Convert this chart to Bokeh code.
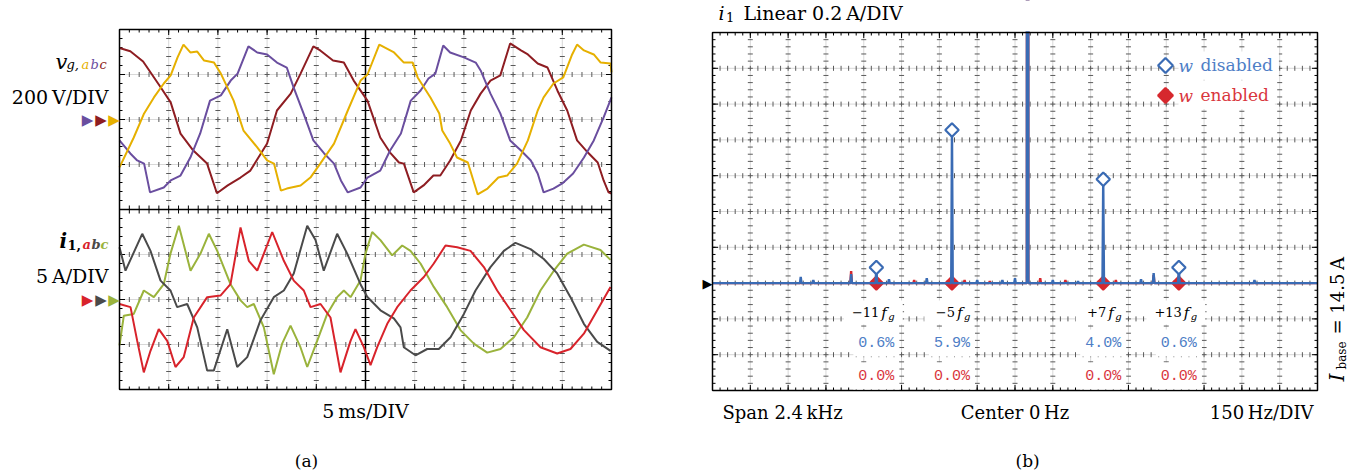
import numpy as np
from bokeh.plotting import figure
from bokeh.models import Range1d, Label, BoxAnnotation
from bokeh.layouts import row
from bokeh.embed import file_html
from bokeh.resources import INLINE

# ---------------- (a) grid voltages [V] vs time [ms] ----------------
va_t = [0, 1.45, 2.5, 3.5, 4.5, 5.2, 5.9, 6.5, 7.2, 7.9, 8.6, 9.6, 10.3, 11.6, 12.6, 14.0, 15.0, 15.7,
        16.4, 17.0, 18.4, 19.4, 20.4, 21.8, 23.2, 24.5, 25.2, 26.4, 27.9, 28.9, 29.8, 30.3, 31.6, 32.5,
        32.8, 33.6, 34.3, 35.4, 36.4, 37.4, 38.5, 39.4, 40.4, 41.5, 42.5, 43.1, 44.1, 45.1, 46.0, 46.5,
        47.2, 48.2, 48.9, 49.9, 50.0]
va_v = [-213, -80, 27, 98, 160, 196, 276, 333, 298, 302, 262, 253, 204, 84, -49, -124, -182, -196,
        -316, -307, -293, -258, -196, -107, 40, 173, 200, 333, 298, 253, 253, 187, 98, 27,
        -49, -107, -169, -191, -333, -307, -258, -249, -196, -93, 40, 98, 160, 187, 289, 333,
        307, 289, 253, 249, 209]
vb_t = [0, 1.1, 1.8, 2.5, 3.1, 4.5, 5.2, 6.2, 7.2, 8.2, 9.2, 10.3, 11.3, 12.0, 13.1, 14.0, 15.0, 16.0,
        17.0, 17.7, 18.7, 19.7, 20.8, 21.8, 22.5, 23.2, 24.5, 25.2, 26.5, 27.5, 28.6, 29.6, 30.6, 31.4,
        32.1, 32.9, 33.6, 35.0, 36.2, 36.7, 37.7, 38.7, 39.7, 40.8, 41.8, 42.5, 43.1, 44.1, 45.0, 46.1,
        47.2, 48.2, 49.2, 50.0]
vb_v = [-93, -151, -182, -196, -324, -302, -271, -249, -169, -62, 84, 107, 173, 204, 325, 298, 289, 253,
        231, 142, 27, -93, -151, -196, -271, -324, -302, -258, -227, -138, -62, 84, 129, 182,
        204, 329, 298, 276, 253, 218, 115, 27, -93, -138, -182, -240, -324, -307, -284, -240,
        -169, -93, 9, 98]
vc_t = [0, 1.1, 2.4, 4.2, 5.2, 6.2, 7.5, 8.9, 9.9, 11.0, 12.3, 13.3, 15.0, 16.0, 17.4, 18.4, 19.7, 20.4,
        21.7, 22.8, 23.8, 25.2, 26.5, 27.5, 28.4, 28.9, 29.9, 30.9, 31.9, 32.6, 33.6, 34.7, 35.7, 36.7,
        37.7, 38.7, 39.7, 40.8, 41.5, 42.5, 43.5, 44.5, 45.5, 46.5, 47.6, 48.6, 49.2, 49.7, 50.0]
vc_v = [318, 303, 258, 142, 76, -63, -138, -196, -328, -293, -258, -227, -107, 40, 115, 204, 325, 307,
        262, 253, 173, 84, -80, -147, -191, -196, -324, -293, -249, -249, -182, -93, 40, 115,
        173, 196, 338, 307, 289, 249, 231, 129, 40, -93, -147, -191, -271, -324, -329]

# ---------------- (a) converter currents [A] vs time [ms] ----------------
ia_t = [0, 1.12, 1.80, 2.47, 3.15, 3.99, 4.85, 5.69, 6.53, 7.55, 8.91, 10.26, 11.28, 12.30, 13.14, 14.0,
        15.52, 16.70, 17.71, 18.73, 19.41, 20.43, 21.44, 22.46, 23.48, 23.98, 24.83, 25.51, 26.19, 27.21,
        28.22, 29.57, 30.93, 31.94, 33.13, 34.32, 35.67, 37.03, 38.38, 39.74, 41.10, 42.78, 44.48, 45.83,
        47.19, 48.55, 49.9]
ia_i = [-0.5, -0.85, -4.6, -8.1, -5.7, -3.3, -4.6, -7.5, -6.4, -2.0, 0.26, 0.44, 1.7, 8.0, 4.3, 3.2,
        7.5, 4.3, 2.1, 1.0, -0.85, -0.5, -2.0, -8.1, -4.6, -3.3, -5.3, -7.3, -5.3, -2.7,
        -0.85, 1.0, 2.5, 4.0, 6.0, 5.8, 5.4, 3.6, 1.0, -1.2, -3.4, -5.3, -6.0, -5.5,
        -3.8, -1.2, 1.4]
ib_t = [0, 0.61, 2.31, 3.15, 4.17, 5.18, 5.86, 6.88, 7.90, 8.91, 9.58, 10.95, 11.96, 12.98, 14.33, 15.68,
        16.70, 17.71, 19.08, 19.92, 20.76, 22.12, 23.14, 24.49, 25.17, 26.52, 27.88, 28.56, 28.89, 30.08,
        31.27, 32.45, 33.64, 35.0, 36.18, 37.70, 39.06, 40.24, 41.77, 43.12, 44.48, 45.83, 47.19, 48.55,
        49.9]
ib_i = [5.8, 3.2, 7.3, 5.4, 2.1, 1.0, -0.85, -0.5, -3.1, -7.9, -7.9, -3.3, -7.5, -6.4, -2.3, 0.26,
        1.0, 2.9, 8.2, 6.6, 3.2, 7.3, 5.1, 1.7, 0.3, -1.2, -2.1, -3.1, -5.3, -6.2,
        -5.5, -5.5, -4.2, -1.6, 1.0, 3.6, 5.4, 6.3, 5.6, 4.5, 2.9, 0.26, -2.7, -4.7,
        -5.7]
ic_t = [0, 0.44, 1.45, 2.47, 3.49, 4.5, 5.18, 6.03, 7.22, 8.23, 9.08, 9.93, 11.28, 12.30, 12.98, 13.65,
        14.67, 15.68, 16.53, 17.38, 18.39, 19.08, 20.09, 21.11, 22.12, 22.80, 23.48, 24.49, 25.0, 25.68,
        26.52, 27.71, 28.73, 29.57, 30.59, 31.94, 33.30, 34.65, 36.01, 37.37, 38.72, 40.08, 41.43, 42.78,
        44.14, 45.50, 47.19, 48.88, 49.9]
ic_i = [-5.1, -1.8, -1.6, 1.0, 0.26, 1.7, 5.1, 8.2, 3.2, 5.1, 7.3, 5.4, 1.7, -0.1, -0.85, -0.5,
        -3.1, -8.3, -4.9, -2.9, -5.3, -7.5, -4.6, -1.6, 0.26, 1.0, 0.26, 2.1, 5.1, 7.5,
        6.6, 4.9, 6.0, 5.4, 4.0, 1.4, -0.85, -3.4, -4.9, -5.9, -5.5, -4.2, -2.0, 1.0,
        3.2, 5.1, 6.1, 5.5, 4.4]

# ---------------- (b) spectrum of i1 ----------------
I_BASE = 14.5            # A
F_G = 50                 # Hz
harm_order = [-11, -5, 7, 13]
harm_text = ["\u221211", "\u22125", "+7", "+13"]
pct_disabled = [0.6, 5.9, 4.0, 0.6]
pct_enabled = [0.0, 0.0, 0.0, 0.0]
spur_f_disabled = [-850, -800, -650, -500, -350, -150, -50, 0, 150, 250, 500, 550, 950]
spur_a_disabled = [0.034, 0.017, 0.050, 0.022, 0.028, 0.017, 0.017, 0.028, 0.017, 0.011, 0.022, 0.056, 0.017]
spur_f_enabled = [-650, -400, -200, -100, 100, 200, 400, 550]
spur_a_enabled = [0.067, 0.017, 0.017, 0.011, 0.028, 0.017, 0.017, 0.045]

# ---------------- styles ----------------
C_VA, C_VB, C_VC = "#E6B000", "#6A4E9F", "#8E1D22"
C_IA, C_IB, C_IC = "#D8232B", "#4A4A4A", "#9AB33C"
C_BLUE, C_RED = "#3A6BB4", "#D6282E"
C_BLUE_T, C_RED_T = "#4E7EC6", "#D9363D"
C_GRID, C_TICK = "#d8d8d8", "#5a5a5a"
SERIF, MONO, SYM = "DejaVu Serif", "Liberation Mono", "DejaVu Sans"


def scope_grid(p, xr, yr, sx, sy, xmaj, xmin, ymaj, ymin, xg, yg):
    """Oscilloscope graticule: light grid, cross ticks, inward border ticks."""
    x0, x1 = xr
    y0, y1 = yr
    xg, yg = np.asarray(xg, float), np.asarray(yg, float)
    p.segment(xg, np.full(len(xg), y0), xg, np.full(len(xg), y1), line_color=C_GRID, line_width=1)
    p.segment(np.full(len(yg), x0), yg, np.full(len(yg), x1), yg, line_color=C_GRID, line_width=1)
    hx, hy = np.meshgrid(np.asarray(xmin)[1:-1], yg)
    p.scatter(hx.ravel(), hy.ravel(), marker="dash", size=5, angle=np.pi / 2,
              line_color=C_TICK, line_width=1)
    vx, vy = np.meshgrid(xg, np.asarray(ymin)[1:-1])
    p.scatter(vx.ravel(), vy.ravel(), marker="dash", size=5, line_color=C_TICK, line_width=1)
    for pos, ln in [(np.asarray(xmin, float), 3.0), (np.asarray(xmaj, float), 5.5)]:
        n = len(pos)
        p.segment(pos, np.full(n, y0), pos, np.full(n, y0 + ln / sy), line_color="black", line_width=1)
        p.segment(pos, np.full(n, y1), pos, np.full(n, y1 - ln / sy), line_color="black", line_width=1)
    for pos, ln in [(np.asarray(ymin, float), 3.0), (np.asarray(ymaj, float), 5.5)]:
        n = len(pos)
        p.segment(np.full(n, x0), pos, np.full(n, x0 + ln / sx), pos, line_color="black", line_width=1)
        p.segment(np.full(n, x1), pos, np.full(n, x1 - ln / sx), pos, line_color="black", line_width=1)


def scope_border(p, xr, yr):
    x0, x1 = xr
    y0, y1 = yr
    p.line([x0, x1, x1, x0, x0], [y0, y0, y1, y1, y0], line_color="black", line_width=1.5)


def lab(p, x, y, text, size, color="black", font=SERIF, style="normal", align="left",
        baseline="middle", angle=0.0, yr="default", bg=None, pad=0, xoff=0):
    kw = dict(x=x, y=y, text=text, text_font=font, text_font_size=f"{size}px", text_color=color,
              text_font_style=style, text_align=align, text_baseline=baseline, angle=angle,
              y_range_name=yr, x_offset=xoff)
    if bg is not None:
        kw.update(background_fill_color=bg, background_fill_alpha=1.0)
        try:
            l = Label(padding=pad, **kw)
        except Exception:
            l = Label(**kw)
    else:
        l = Label(**kw)
    p.add_layout(l)
    return l


def blank(p, x, y, text, size, font=SERIF, align="left", pad=3, xoff=0):
    """white box (white text on white) that hides the graticule behind a text"""
    return lab(p, x, y, text, size, "white", font=font, align=align, bg="white", pad=pad, xoff=xoff)


# ======================= (a) time-domain panel =======================
# panel frame in the page: x 119..611 px (50 ms), y 29..389 px (8 divisions)
SX1, SY1 = 9.84, 45.0          # px per ms, px per division


def LX(px):
    return (px - 119) / SX1


def LY(py):
    return (209 - py) / SY1


W1, H = 640, 476
p1 = figure(width=W1, height=H, x_range=Range1d(LX(0), LX(W1)), y_range=Range1d(LY(H), LY(0)),
            output_backend="svg", toolbar_location=None, title=None,
            x_axis_location=None, y_axis_location=None, min_border=0)
p1.grid.visible = False
p1.outline_line_color = None
p1.extra_y_ranges = {"v": Range1d((LY(H) - 2) * 200, (LY(0) - 2) * 200),
                     "i": Range1d((LY(H) + 2) * 5, (LY(0) + 2) * 5)}

xmin1 = np.round(np.arange(0, 50.001, 1.0), 3)
ymin1 = np.round(np.arange(-4, 4.001, 0.2), 3)
scope_grid(p1, (0, 50), (-4, 4), SX1, SY1, np.arange(0, 50.1, 5), xmin1, np.arange(-4, 4.1, 1), ymin1,
           [5, 10, 15, 20, 30, 35, 40, 45], [-3, -2, -1, 1, 2, 3])
# solid centre lines with crossing ticks
p1.segment([25, 0], [-4, 0], [25, 50], [4, 0], line_color="black", line_width=1.5)
p1.scatter(np.full(len(ymin1) - 2, 25.0), ymin1[1:-1], marker="dash", size=8, line_color="black", line_width=1)
p1.scatter(xmin1[1:-1], np.zeros(len(xmin1) - 2), marker="dash", size=8, angle=np.pi / 2,
           line_color="black", line_width=1)

p1.line(vc_t, vc_v, y_range_name="v", line_color=C_VC, line_width=2)
p1.line(vb_t, vb_v, y_range_name="v", line_color=C_VB, line_width=2)
p1.line(va_t, va_v, y_range_name="v", line_color=C_VA, line_width=2)
p1.line(ic_t, ic_i, y_range_name="i", line_color=C_IC, line_width=2)
p1.line(ib_t, ib_i, y_range_name="i", line_color=C_IB, line_width=2)
p1.line(ia_t, ia_i, y_range_name="i", line_color=C_IA, line_width=2)
scope_border(p1, (0, 50), (-4, 4))

lab(p1, LX(55), LY(61), "v", 21, style="italic")
lab(p1, LX(66), LY(64), "g,", 13, style="italic")
lab(p1, LX(81), LY(64), "a", 13, C_VA, style="italic")
lab(p1, LX(90), LY(64), "b", 13, C_VB, style="italic")
lab(p1, LX(99), LY(64), "c", 13, C_VC, style="italic")
lab(p1, LX(108), LY(96.5), "200\u2009V/DIV", 19, align="right")
for px, col in [(87, C_VB), (100.5, C_VC), (113.5, C_VA)]:
    lab(p1, LX(px), 0, "\u25B6", 15, col, font=SYM, align="center", yr="v")

lab(p1, LX(59), LY(240), "i", 20, style="bold italic")
lab(p1, LX(67), LY(244), "1,", 13, style="bold")
lab(p1, LX(82), LY(244), "a", 13, C_IA, style="bold italic")
lab(p1, LX(91), LY(244), "b", 13, C_IB, style="bold italic")
lab(p1, LX(100), LY(244), "c", 13, C_IC, style="bold italic")
lab(p1, LX(108), LY(275.5), "5\u2009A/DIV", 19, align="right")
for px, col in [(87, C_IA), (100.5, C_IB), (113.5, C_IC)]:
    lab(p1, LX(px), 0, "\u25B6", 15, col, font=SYM, align="center", yr="i")

lab(p1, 25, LY(410), "5\u2009ms/DIV", 19, align="center")
lab(p1, LX(306), LY(460), "(a)", 17, align="center")

# ======================= (b) spectrum panel =======================
# panel frame in the page: x 712..1317 px (2400 Hz), y 32..390 px (2.0 A)
SX2, SY2 = 605 / 2400, 179.0   # px per Hz, px per A
X_OFF = 640                     # page x of this figure's left edge


def RX(px):
    return (px - 1014.5) / SX2


def RY(py):
    return (282.6 - py) / SY2


W2 = 727
p2 = figure(width=W2, height=H, x_range=Range1d(RX(X_OFF), RX(X_OFF + W2)), y_range=Range1d(RY(H), RY(0)),
            output_backend="svg", toolbar_location=None, title=None,
            x_axis_location=None, y_axis_location=None, min_border=0)
p2.grid.visible = False
p2.outline_line_color = None

xmin2 = np.arange(-1200, 1201, 30)
ymin2 = np.round(np.arange(-0.6, 1.4001, 0.04), 3)
scope_grid(p2, (-1200, 1200), (-0.6, 1.4), SX2, SY2, np.arange(-1200, 1201, 150), xmin2,
           np.round(np.arange(-0.6, 1.4001, 0.2), 3), ymin2,
           np.arange(-1050, 1051, 150), np.round(np.arange(-0.4, 1.2001, 0.2), 3))

harm_f = [o * F_G for o in harm_order]
amp_dis = [pc / 100 * I_BASE for pc in pct_disabled]
amp_en = [pc / 100 * I_BASE for pc in pct_enabled]

HW = 3.0  # half base width of one spectral line [Hz]


def trace(freqs, amps):
    xs, ys = [-1200.0], [0.0]
    for f, a in sorted(zip(freqs, amps)):
        xs += [f - HW, f, f + HW]
        ys += [0.0, a, 0.0]
    xs.append(1200.0)
    ys.append(0.0)
    return xs, ys


xd, yd = trace(harm_f + spur_f_disabled + [F_G], amp_dis + spur_a_disabled + [I_BASE])
xe, ye = trace(spur_f_enabled + [F_G], spur_a_enabled + [I_BASE])

p2.scatter(harm_f, amp_en, marker="square", angle=np.pi / 4, size=9.5,
           fill_color=C_RED, line_color=C_RED, line_width=2)
p2.line(xe, ye, line_color=C_RED, line_width=2.4)
p2.line(xd, yd, line_color=C_BLUE, line_width=2.4)
p2.scatter(harm_f, amp_dis, marker="square", angle=np.pi / 4, size=9.5,
           fill_color="white", line_color=C_BLUE, line_width=2.2)
scope_border(p2, (-1200, 1200), (-0.6, 1.4))
# page area above the graticule stays blank (the fundamental line is cut at the top edge)
p2.add_layout(BoxAnnotation(bottom=1.4 + 1.2 / SY2, fill_color="white", fill_alpha=1.0, line_color=None))

# key
blank(p2, RX(1178), RY(65), "w disabled", 17, pad=4)
blank(p2, RX(1178), RY(94.5), "w enabled", 17, pad=4)
p2.scatter([RX(1165)], [RY(65)], marker="square", angle=np.pi / 4, size=10.5,
           fill_color="white", line_color=C_BLUE, line_width=2.2)
p2.scatter([RX(1165)], [RY(95)], marker="square", angle=np.pi / 4, size=10.5,
           fill_color=C_RED, line_color=C_RED, line_width=2.2)
lab(p2, RX(1178), RY(65.5), "w", 17, C_BLUE_T, style="italic")
lab(p2, RX(1200), RY(64.5), "disabled", 17, C_BLUE_T)
lab(p2, RX(1178), RY(95), "w", 17, C_RED_T, style="italic")
lab(p2, RX(1200), RY(94), "enabled", 17, C_RED_T)

for f, t, pd, pe in zip(harm_f, harm_text, pct_disabled, pct_enabled):
    blank(p2, f, RY(312), "\u2009" + t + "fg\u2009", 15, align="center", pad=3, xoff=-3)
    lab(p2, f, RY(311), t, 13, align="right", xoff=3)
    lab(p2, f, RY(312), "f", 15, style="italic", xoff=5)
    lab(p2, f, RY(315.5), "g", 10, style="italic", xoff=12)
    blank(p2, f, RY(342.5), f"{pd:.1f}%", 15, font=MONO, align="center", pad=5)
    lab(p2, f, RY(342.5), f"{pd:.1f}%", 15, C_BLUE_T, font=MONO, align="center")
    blank(p2, f, RY(375.5), f"{pe:.1f}%", 15, font=MONO, align="center", pad=5)
    lab(p2, f, RY(375.5), f"{pe:.1f}%", 15, C_RED_T, font=MONO, align="center")

lab(p2, RX(718), RY(12.5), "i", 19, style="italic")
lab(p2, RX(725.5), RY(16), "1", 13)
lab(p2, RX(743), RY(12.5), "Linear 0.2\u2009A/DIV", 19)
lab(p2, RX(722), RY(411.5), "Span 2.4\u2009kHz", 18)
lab(p2, 0, RY(411.5), "Center 0\u2009Hz", 18, align="center")
lab(p2, RX(1313), RY(411.5), "150\u2009Hz/DIV", 18, align="right")
lab(p2, F_G, RY(460), "(b)", 17, align="center")
lab(p2, RX(1336.5), RY(381), "I", 20, style="italic", angle=np.pi / 2)
lab(p2, RX(1341.5), RY(369), "base", 12, angle=np.pi / 2)
lab(p2, RX(1336.5), RY(334), "= 14.5\u2009A", 18, angle=np.pi / 2)
lab(p2, RX(707), 0, "\u25B6", 13, "black", font=SYM, align="center")

layout = row(p1, p2)
with open("out.html", "w", encoding="utf-8") as fh:
    fh.write(file_html(layout, INLINE))
